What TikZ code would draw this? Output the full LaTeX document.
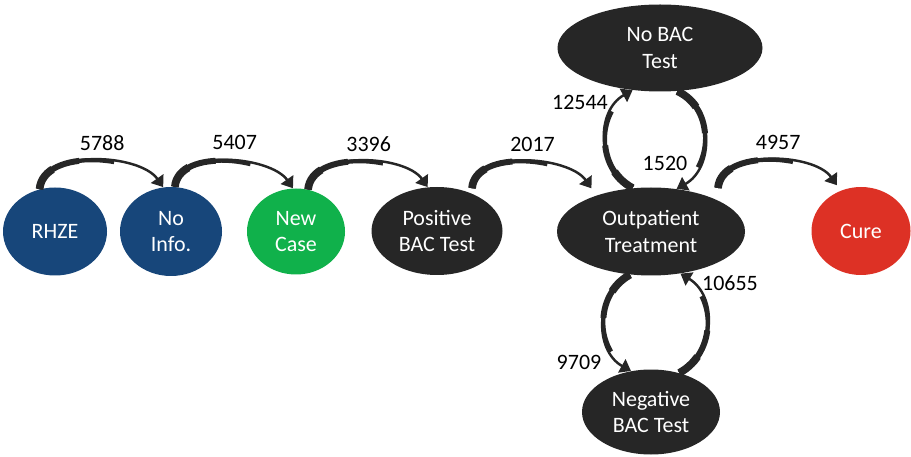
\documentclass[tikz,border=0pt]{standalone}
\usepackage{fontspec}
\setmainfont{Carlito}
\usetikzlibrary{shapes.geometric,arrows.meta}
\definecolor{navy}{HTML}{17467A}
\definecolor{grn}{HTML}{10B14B}
\definecolor{ink}{HTML}{262626}
\definecolor{redc}{HTML}{DD3125}
\tikzset{
  state/.style={ellipse, fill=ink, text=white, align=center, inner sep=0pt,
    font=\fontsize{12.5}{15}\selectfont},
  flow/.style={draw=ink, line width=1.4pt, -{Triangle[width=8.5pt,length=6pt]},
    preaction={draw=ink, -, line width=4.4pt, dash pattern=on 14pt off 300pt},
    preaction={draw=ink, -, line width=3.4pt, dash pattern=on 30pt off 300pt},
    preaction={draw=ink, -, line width=2.4pt, dash pattern=on 50pt off 300pt}},
  count/.style={font=\fontsize{12.5}{15}\selectfont, text=black, inner sep=1pt}
}
\begin{document}
\begin{tikzpicture}
  \useasboundingbox (0,0) rectangle (18.22,9.12);

  % states along the main line
  \node[state, fill=navy, minimum width=2.08cm, minimum height=1.76cm] (rhze) at (1.10,4.49) {RHZE};
  \node[state, fill=navy, minimum width=2.04cm, minimum height=1.78cm] (noinfo) at (3.42,4.49) {No\\Info.};
  \node[state, fill=grn, minimum width=1.96cm, minimum height=1.72cm] (newcase) at (5.92,4.49) {New\\Case};
  \node[state, minimum width=2.62cm, minimum height=1.76cm] (pos) at (8.74,4.50) {Positive\\BAC Test};
  \node[state, minimum width=3.76cm, minimum height=1.76cm] (outp) at (13.02,4.49) {Outpatient\\Treatment};
  \node[state, fill=redc, minimum width=1.98cm, minimum height=1.76cm] (cure) at (17.22,4.50) {Cure};

  % tests above and below
  \node[state, minimum width=4.10cm, minimum height=1.74cm] (nobac) at (13.20,8.16) {No BAC\\Test};
  \node[state, minimum width=2.76cm, minimum height=1.70cm] (neg) at (13.02,0.88) {Negative\\BAC Test};

  % forward arcs
  \draw[flow] (rhze.110) to[out=85, in=125, looseness=0.85] node[count, pos=0.55, above=4pt] (c5788) {5788} (noinfo.100);
  \draw[flow] (noinfo.85) to[out=85, in=125, looseness=0.85] node[count, pos=0.55, above=5pt] (c5407) {5407} (newcase.94);
  \draw[flow] (newcase.74) to[out=85, in=125, looseness=0.85] node[count, pos=0.55, above=4pt] (c3396) {3396} (pos.102);
  \draw[flow] ([yshift=3pt]pos.47) to[out=85, in=125, looseness=0.85] node[count, pos=0.55, above=4pt] (c2017) {2017} ([yshift=5pt]outp.150);
  \draw[flow] ([yshift=7pt]outp.25) to[out=85, in=125, looseness=0.85] node[count, pos=0.55, above=4pt] (c4957) {4957} ([yshift=4pt]cure.122);

  % loop with No BAC Test
  \draw[flow] (outp.113) to[out=152, in=209, looseness=1.1] (nobac.237);
  \draw[flow] (nobac.292) to[out=-25, in=29, looseness=1.1] (outp.59);
  \node[count] (c12544) at (11.60,7.08) {12544};
  \node[count] (c1520) at (13.30,5.86) {1520};

  % loop with Negative BAC Test
  \draw[flow] (outp.244) to[out=209, in=151, looseness=1.1] (neg.116);
  \draw[flow] (neg.54) to[out=29, in=-31, looseness=1.1] (outp.305);
  \node[count] (c10655) at (14.60,3.46) {10655};
  \node[count] (c9709) at (11.58,1.88) {9709};
\end{tikzpicture}
\end{document}
